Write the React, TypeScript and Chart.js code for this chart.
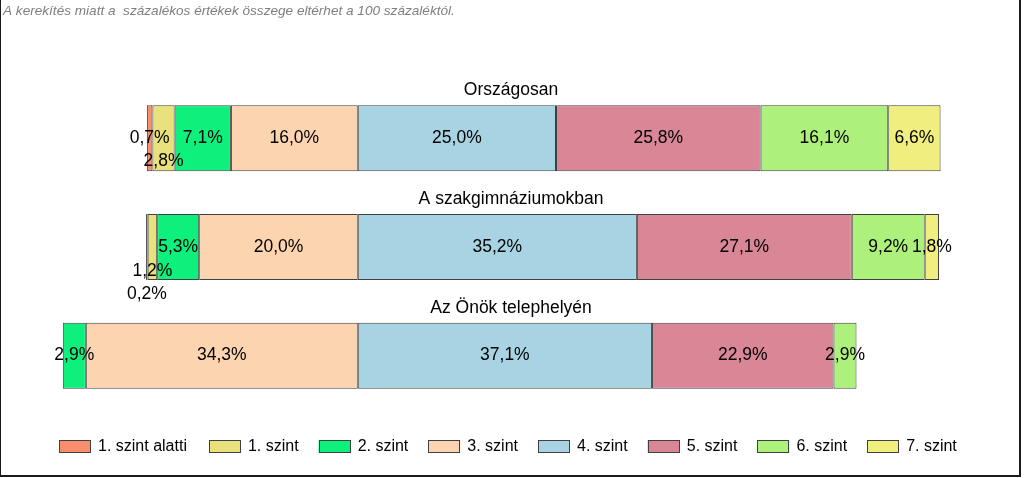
import React, { useEffect, useRef } from "react";
import { Chart, registerables } from "chart.js";

Chart.register(...registerables);

const categories = ["Országosan", "A szakgimnáziumokban", "Az Önök telephelyén"];
const levelNames = ["1. szint alatti", "1. szint", "2. szint", "3. szint", "4. szint", "5. szint", "6. szint", "7. szint"];
const szintAlatti = [0.7, 0.2, 0];
const szint1 = [2.8, 1.2, 0];
const szint2 = [7.1, 5.3, 2.9];
const szint3 = [16.0, 20.0, 34.3];
const szint4 = [25.0, 35.2, 37.1];
const szint5 = [25.8, 27.1, 22.9];
const szint6 = [16.1, 9.2, 2.9];
const szint7 = [6.6, 1.8, 0];
const noteText = "A kerekítés miatt a  százalékos értékek összege eltérhet a 100 százaléktól.";

const levelColors = ["#F98E6C", "#E9E17C", "#0DF07C", "#FDD4B0", "#A7D3E3", "#D98697", "#AEF07C", "#F1EE80"];
// vertical label nudges (px) to avoid overlaps, per level, per category
const labelNudge: Record<string, number[]> = {
  "1. szint alatti": [0, 47, 0],
  "1. szint": [23, 24, 0],
};

const FONT = "'Liberation Sans', Arial, sans-serif";

export default function App() {
  const ref = useRef<HTMLCanvasElement>(null);
  useEffect(() => {
    const values = [szintAlatti, szint1, szint2, szint3, szint4, szint5, szint6, szint7];
    // negative side stacks outward from zero: 3, 2, 1, alatti; positive: 4..7
    const order = [3, 2, 1, 0, 4, 5, 6, 7];
    const datasets = order.map((li) => ({
      label: levelNames[li],
      levelIndex: li,
      data: values[li].map((v) => (v === 0 ? null : li <= 3 ? -v : v)),
      backgroundColor: levelColors[li],
      borderColor: "#404040",
      borderWidth: 1,
      borderSkipped: false,
      categoryPercentage: 0.607,
      barPercentage: 1,
    }));

    const overlay = {
      id: "overlay",
      afterDatasetsDraw(chart: any) {
        const ctx = chart.ctx;
        ctx.save();
        // data labels
        ctx.font = `17.5px ${FONT}`;
        ctx.fillStyle = "#000";
        ctx.textAlign = "center";
        ctx.textBaseline = "middle";
        chart.data.datasets.forEach((ds: any, di: number) => {
          const meta = chart.getDatasetMeta(di);
          meta.data.forEach((bar: any, i: number) => {
            const v = ds.data[i];
            if (v === null || v === undefined) return;
            const cx = (bar.x + bar.base) / 2;
            const nudge = labelNudge[ds.label] ? labelNudge[ds.label][i] : 0;
            ctx.fillText(Math.abs(v).toFixed(1).replace(".", ",") + "%", cx, bar.y + nudge);
          });
        });
        // category titles above bars
        const yScale = chart.scales.y;
        const meta0 = chart.getDatasetMeta(0);
        categories.forEach((c, i) => {
          const bar = meta0.data[i];
          const h = bar ? bar.height : 66;
          const y = yScale.getPixelForValue(i) - h / 2 - 15;
          ctx.fillText(c, 511, y);
        });
        // legend
        ctx.font = `16px ${FONT}`;
        ctx.textAlign = "left";
        let x = 59;
        levelNames.forEach((name, i) => {
          const w = ctx.measureText(name).width;
          ctx.fillStyle = levelColors[i];
          ctx.fillRect(x, 440, 32, 13);
          ctx.strokeStyle = "#404040";
          ctx.lineWidth = 1;
          ctx.strokeRect(Math.round(x) + 0.5, 440.5, 31, 12);
          ctx.fillStyle = "#000";
          ctx.fillText(name, x + 39, 447);
          const need = 39 + w + 22;
          x += need > 120 ? need : 109.7;
        });
        // note
        ctx.font = `italic 13.6px ${FONT}`;
        ctx.fillStyle = "#7F7F7F";
        ctx.textBaseline = "alphabetic";
        ctx.fillText(noteText, 3, 15);
        // frame
        ctx.fillStyle = "#1A1A1A";
        ctx.fillRect(0, 0, 1, 477);
        ctx.fillRect(1019, 0, 2, 477);
        ctx.fillRect(0, 475, 1021, 2);
        ctx.restore();
      },
    };

    const chart = new Chart(ref.current!, {
      type: "bar",
      data: { labels: categories, datasets },
      options: {
        indexAxis: "y",
        animation: false,
        responsive: false,
        maintainAspectRatio: false,
        layout: { padding: { left: 20, right: 20, top: 84, bottom: 68 } },
        plugins: { legend: { display: false }, title: { display: false }, tooltip: { enabled: false } },
        scales: {
          x: { stacked: true, min: -42.6, max: 81.5, display: false },
          y: { stacked: true, display: false },
        },
      },
      plugins: [overlay],
    } as any);
    return () => chart.destroy();
  }, []);

  return (
    <div style={{ position: "fixed", left: 0, top: 0, width: 1024, height: 478, background: "#fff" }}>
      <canvas ref={ref} width={1024} height={478} style={{ width: 1024, height: 478, display: "block" }} />
    </div>
  );
}
